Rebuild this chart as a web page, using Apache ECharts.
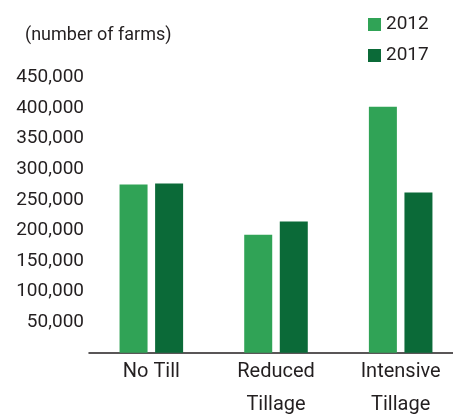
<!DOCTYPE html>
<html>
<head>
<meta charset="utf-8">
<script src="https://cdn.jsdelivr.net/npm/echarts@6/dist/echarts.min.js"></script>
<style>
  html, body { margin: 0; padding: 0; background: #fff; }
  #main { width: 453px; height: 415px; }
</style>
</head>
<body>
<div id="main"></div>
<script>
let categories = ['No Till', 'Reduced\nTillage', 'Intensive\nTillage'];
let years = ['2012', '2017'];
let farms2012 = [275000, 193000, 402000];
let farms2017 = [276500, 214500, 262000];

let fontFam = 'Roboto, sans-serif';
let textColor = '#231f20';

let myChart = echarts.init(document.getElementById('main'));

const option = {
	animation: false,
	textStyle: { fontFamily: fontFam, color: textColor },
	title: {
		text: '(number of farms)',
		left: 20,
		top: 21,
		textStyle: { fontFamily: fontFam, fontSize: 18, fontWeight: 'normal', color: textColor }
	},
	legend: {
		data: years,
		orient: 'vertical',
		left: 363,
		top: 10,
		icon: 'rect',
		itemWidth: 13,
		itemHeight: 13,
		itemGap: 12,
		textStyle: { fontFamily: fontFam, fontSize: 19, color: textColor }
	},
	grid: {
		left: 89,
		width: 374,
		top: 77.5,
		bottom: 62.3,
		outerBoundsMode: 'none'
	},
	xAxis: {
		type: 'category',
		data: categories,
		axisLine: { lineStyle: { color: '#231f20', width: 1.5 } },
		axisTick: { show: false },
		axisLabel: {
			fontFamily: fontFam,
			fontSize: 20,
			color: textColor,
			lineHeight: 33,
			margin: 3
		}
	},
	yAxis: {
		type: 'value',
		min: 0,
		max: 450000,
		interval: 50000,
		axisLine: { show: false },
		axisTick: { show: false },
		splitLine: { show: false },
		axisLabel: {
			fontFamily: fontFam,
			fontSize: 19,
			color: textColor,
			margin: 5,
			formatter: function (v) {
				return v === 0 ? '' : v.toLocaleString('en-US');
			}
		}
	},
	series: [
		{
			name: years[0],
			type: 'bar',
			data: farms2012,
			barWidth: 28,
			barGap: '27%',
			itemStyle: { color: '#30a356' }
		},
		{
			name: years[1],
			type: 'bar',
			data: farms2017,
			barWidth: 28,
			itemStyle: { color: '#0b6a38' }
		}
	]
};

myChart.setOption(option);
</script>
</body>
</html>
